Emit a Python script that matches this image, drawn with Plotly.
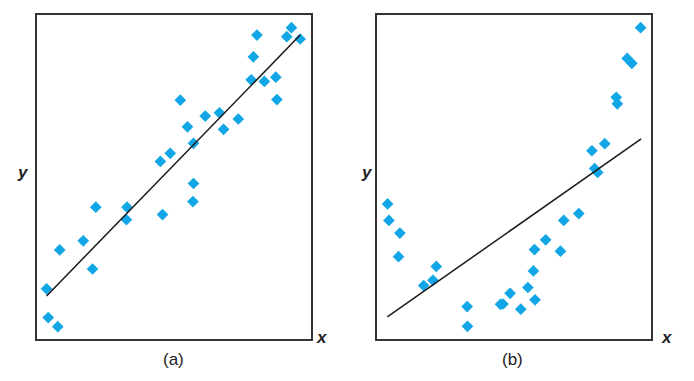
import plotly.graph_objects as go

# Panel (a) data
a_x = [8.04, 9.30, 9.13, 9.62, 7.91, 7.83, 8.31, 8.73, 8.77, 5.24, 6.15, 6.67, 7.36, 5.50, 6.82,
       5.72, 4.87, 4.51, 5.72, 5.70, 2.15, 3.29, 3.27, 4.59, 1.69, 0.83, 2.03, 0.35, 0.41, 0.76]
a_y = [9.38, 9.61, 9.33, 9.26, 8.71, 8.00, 7.95, 8.08, 7.39, 7.37, 6.88, 6.98, 6.79, 6.55, 6.47,
       6.04, 5.73, 5.48, 4.80, 4.24, 4.07, 4.07, 3.68, 3.84, 3.03, 2.75, 2.16, 1.55, 0.66, 0.38]
a_line_x = [0.35, 9.62]
a_line_y = [1.33, 9.38]

# Panel (b) data
b_x = [9.62, 9.13, 9.30, 8.73, 8.77, 8.31, 7.84, 7.94, 8.05, 0.37, 0.42, 0.82, 0.77, 2.15, 2.03,
       1.69, 3.28, 3.29, 4.50, 4.59, 4.85, 5.24, 5.50, 5.76, 5.70, 5.74, 6.15, 6.69, 6.81, 7.36]
b_y = [9.61, 8.66, 8.51, 7.46, 7.26, 6.03, 5.81, 5.26, 5.14, 4.17, 3.66, 3.27, 2.54, 2.24, 1.81,
       1.65, 1.00, 0.39, 1.07, 1.08, 1.41, 0.92, 1.59, 1.21, 2.10, 2.76, 3.06, 2.71, 3.66, 3.87]
b_line_x = [0.36, 9.64]
b_line_y = [0.68, 6.18]

marker = dict(symbol="diamond", size=9, color="#12a6e6")
line = dict(color="#1a1a1a", width=1.5)

fig = go.Figure()
fig.add_trace(go.Scatter(x=a_x, y=a_y, mode="markers", marker=marker, xaxis="x", yaxis="y"))
fig.add_trace(go.Scatter(x=a_line_x, y=a_line_y, mode="lines", line=line, xaxis="x", yaxis="y"))
fig.add_trace(go.Scatter(x=b_x, y=b_y, mode="markers", marker=marker, xaxis="x2", yaxis="y2"))
fig.add_trace(go.Scatter(x=b_line_x, y=b_line_y, mode="lines", line=line, xaxis="x2", yaxis="y2"))

ax = dict(range=[0, 10], showgrid=False, zeroline=False, showticklabels=False, ticks="",
          showline=True, mirror=True, linecolor="#333333", linewidth=2, fixedrange=True)
d1 = [0, 274 / 615]
d2 = [341 / 615, 1]
fig.update_layout(
    width=686, height=373,
    margin=dict(l=28.5, r=42.5, t=5, b=41.5),
    paper_bgcolor="white", plot_bgcolor="white",
    showlegend=False,
    xaxis=dict(ax, domain=d1, anchor="y"),
    yaxis=dict(ax, domain=[0, 1], anchor="x"),
    xaxis2=dict(ax, domain=d2, anchor="y2"),
    yaxis2=dict(ax, domain=[0, 1], anchor="x2"),
    font=dict(family="Liberation Sans, Arial, sans-serif", color="#222222"),
)

def lab(text, xref, yref, x, y, size=17, italic=True):
    t = "<b><i>" + text + "</i></b>" if italic else text
    fig.add_annotation(text=t, xref=xref, yref=yref, x=x, y=y, showarrow=False,
                       font=dict(size=size), xanchor="center", yanchor="middle")

lab("y", "x domain", "y domain", -0.053, 0.513)
lab("x", "x domain", "y domain", 1.042, 0.005)
lab("(a)", "x domain", "y domain", 0.498, -0.063, size=17, italic=False)
lab("y", "x2 domain", "y2 domain", -0.038, 0.513)
lab("x", "x2 domain", "y2 domain", 1.057, 0.005)
lab("(b)", "x2 domain", "y2 domain", 0.495, -0.063, size=17, italic=False)

fig.write_html("out.html")
